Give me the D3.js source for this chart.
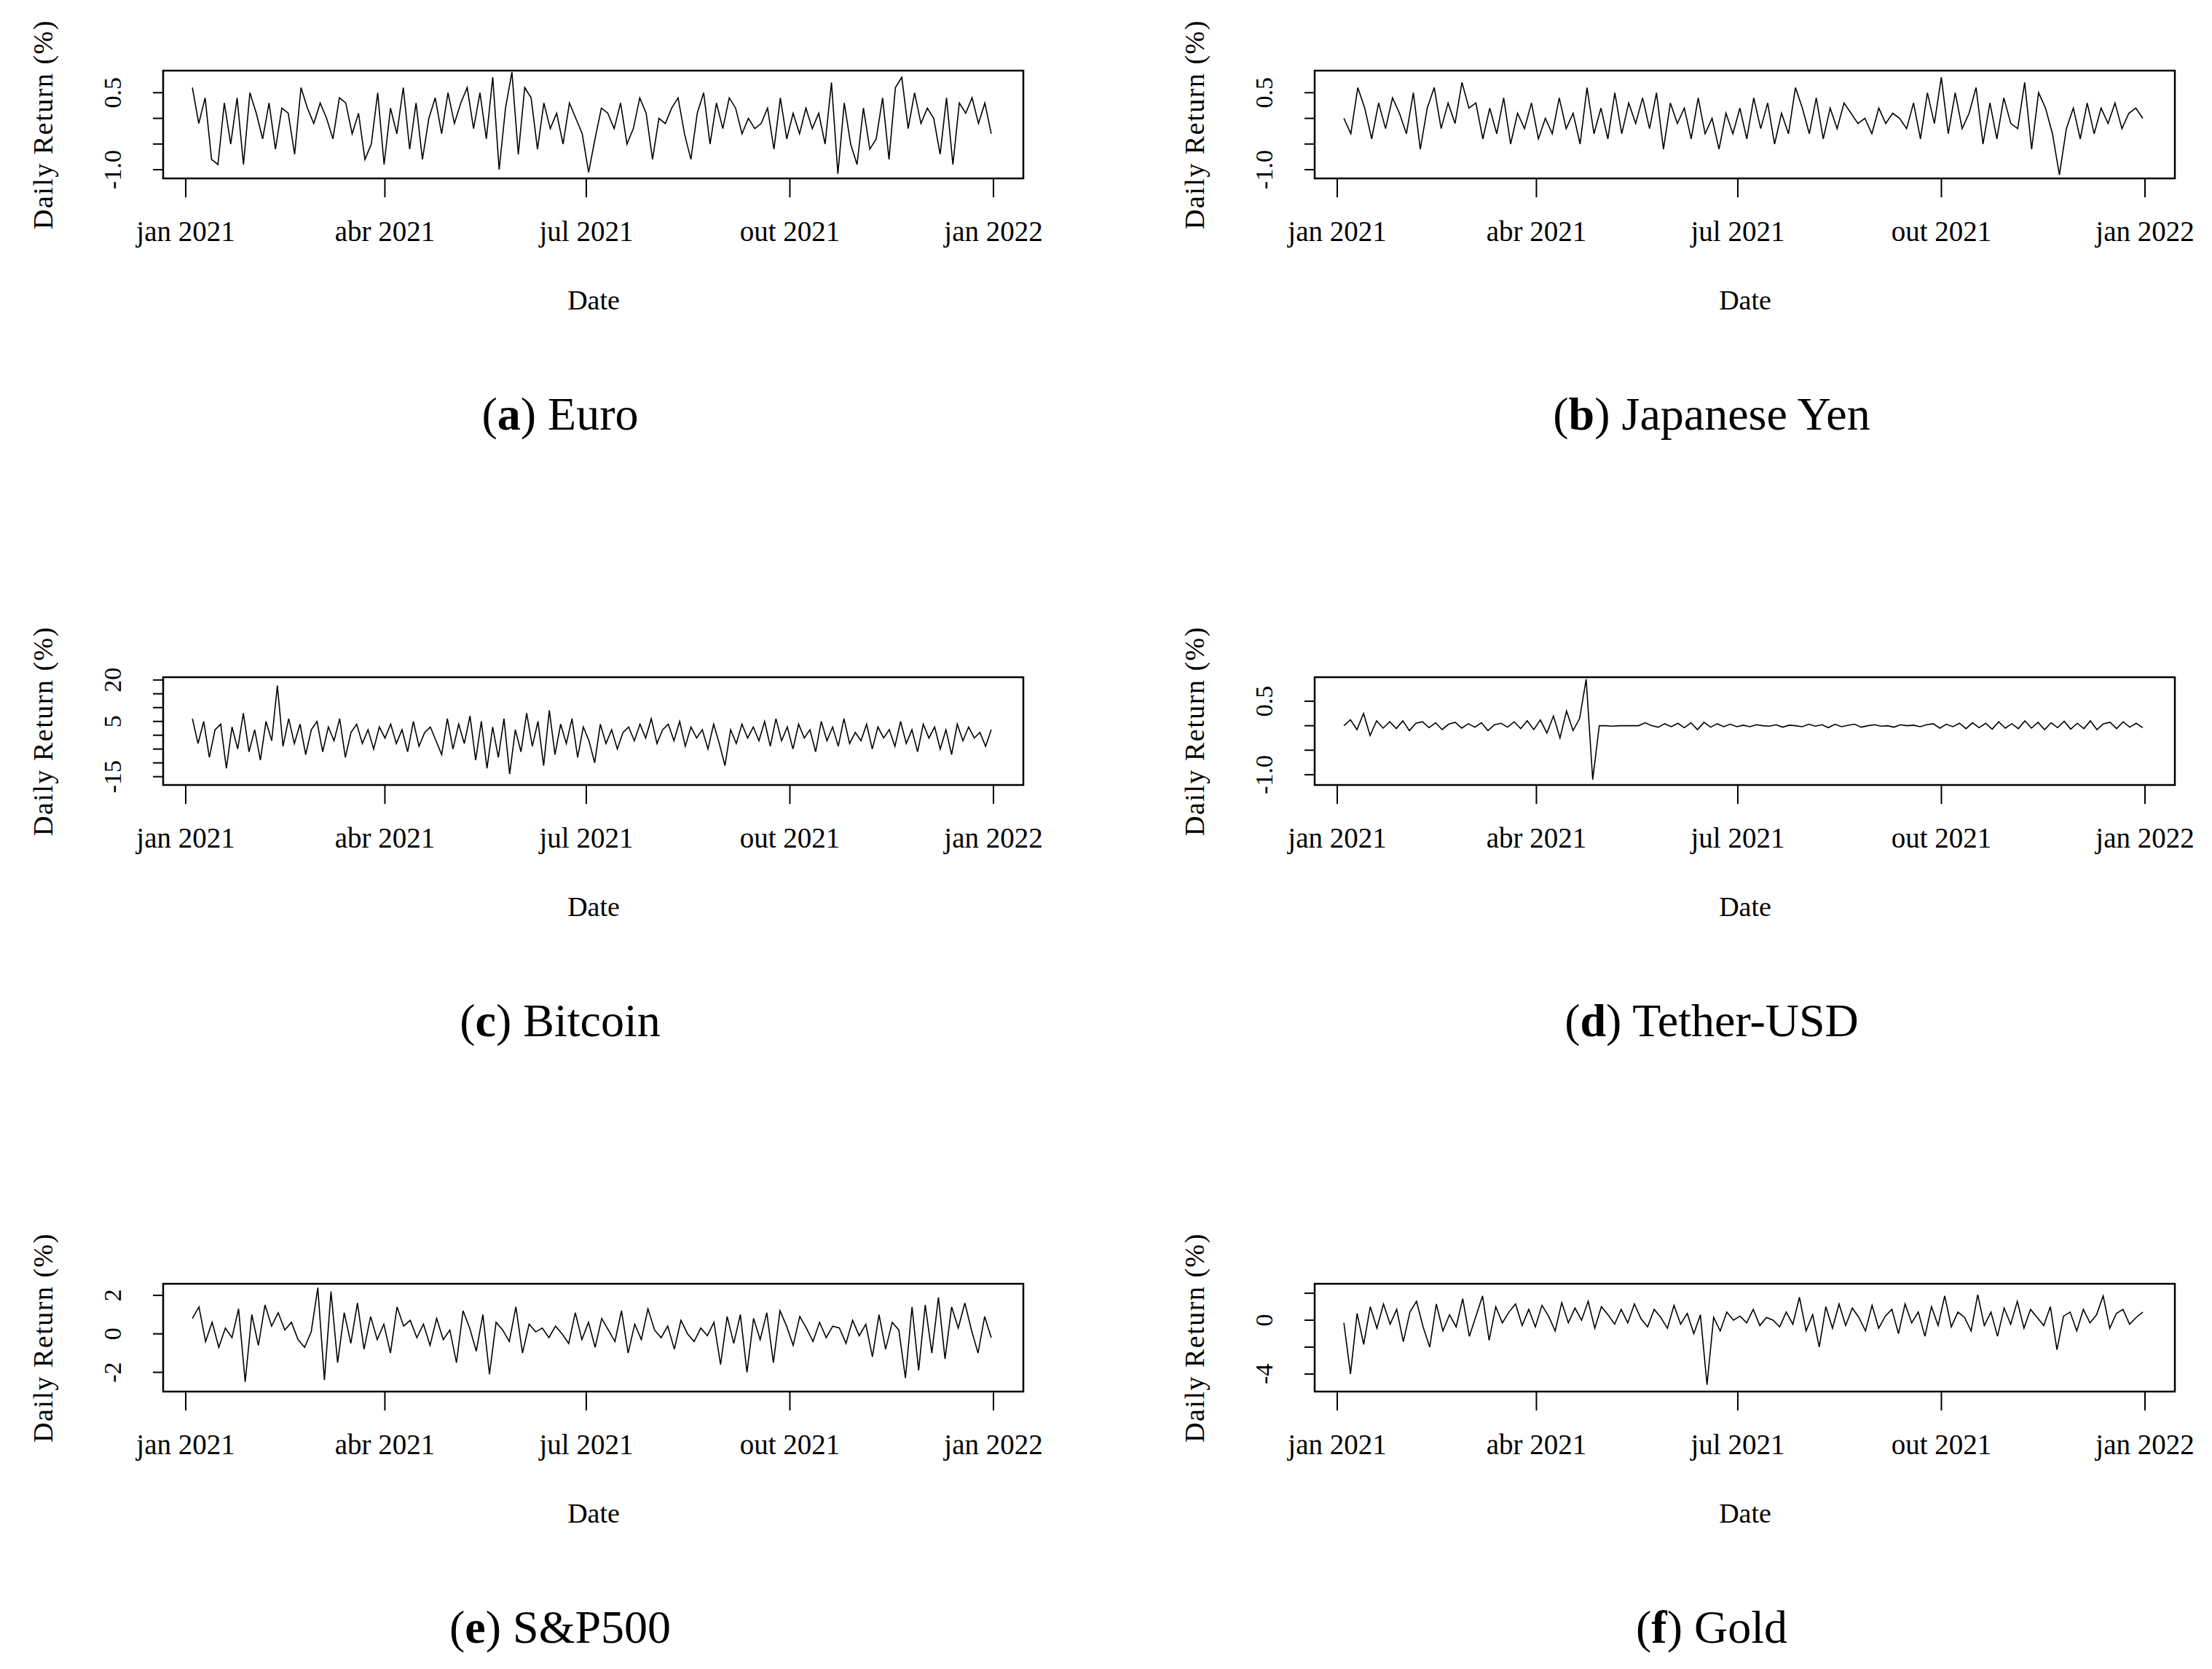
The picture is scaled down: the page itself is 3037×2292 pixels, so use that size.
<!DOCTYPE html>
<html>
<head>
<meta charset="utf-8">
<script src="https://cdn.jsdelivr.net/npm/d3@7"></script>
<style>
  body { margin: 0; background: #fff; }
  text { font-family: "Liberation Serif", serif; }
</style>
</head>
<body>
<script>
// daily returns (%), roughly every 3 days
const euro = [0.6,-0.1,0.4,-0.8,-0.9,0.3,-0.5,0.4,-0.9,0.5,0.1,-0.4,0.3,-0.6,0.2,0.1,-0.7,0.6,0.2,-0.1,0.3,0.0,-0.4,0.4,0.3,-0.3,0.1,-0.8,-0.5,0.5,-0.9,0.2,-0.3,0.6,-0.6,0.3,-0.8,0.0,0.4,-0.3,0.5,-0.1,0.3,0.6,-0.2,0.5,-0.4,0.8,-1.0,0.2,0.9,-0.7,0.6,0.4,-0.6,0.3,-0.2,0.1,-0.5,0.3,0.0,-0.3,-1.05,-0.4,0.2,0.1,-0.2,0.3,-0.5,-0.2,0.4,0.1,-0.8,0.0,-0.1,0.2,0.4,-0.3,-0.8,0.1,0.5,-0.5,0.3,-0.2,0.4,0.2,-0.3,0.0,-0.2,-0.1,0.2,-0.6,0.4,-0.4,0.1,-0.3,0.2,-0.2,0.1,-0.5,0.7,-1.08,0.3,-0.5,-0.9,0.2,-0.6,-0.4,0.4,-0.8,0.6,0.8,-0.2,0.5,-0.1,0.2,0.0,-0.7,0.4,-0.9,0.3,0.1,0.4,-0.1,0.3,-0.3];
const yen = [0.0,-0.3,0.6,0.2,-0.4,0.3,-0.2,0.4,0.1,-0.3,0.5,-0.6,0.2,0.6,-0.2,0.3,-0.1,0.7,0.2,0.3,-0.4,0.2,-0.3,0.4,-0.5,0.1,-0.2,0.3,-0.4,0.0,-0.3,0.4,-0.2,0.1,-0.5,0.6,-0.3,0.2,-0.4,0.5,-0.3,0.3,-0.1,0.4,-0.2,0.5,-0.6,0.3,-0.1,0.2,-0.4,0.4,-0.3,0.0,-0.6,0.1,-0.3,0.2,-0.4,0.4,-0.2,0.3,-0.5,0.1,-0.3,0.6,0.2,-0.3,0.4,-0.4,0.2,-0.2,0.3,0.1,-0.1,0.0,-0.3,0.2,-0.1,0.1,0.0,-0.2,0.3,-0.4,0.5,-0.1,0.8,-0.3,0.5,-0.2,0.1,0.6,-0.5,0.3,-0.4,0.4,-0.1,-0.2,0.7,-0.6,0.5,0.2,-0.3,-1.1,-0.2,0.2,-0.4,0.3,-0.3,0.2,-0.1,0.3,-0.2,0.1,0.2,0.0];
const bitcoin = [6,-3,5,-8,2,4,-12,3,-5,8,-6,2,-9,5,-2,18,-4,6,-3,4,-7,2,5,-6,3,-2,6,-8,1,4,-3,2,-5,3,-1,4,-3,2,-6,5,-4,1,3,-2,-7,6,-5,4,-3,7,-9,5,-12,3,-8,6,-14,2,-6,8,-4,5,-11,9,-7,4,-3,6,-8,3,-2,-10,4,-3,2,-5,1,3,-2,4,-1,6,-3,2,4,-2,5,-4,3,-1,2,-5,4,-3,-11,2,-3,4,-1,3,-2,5,-4,6,-2,3,-5,4,-1,2,-6,5,-2,3,-4,6,-3,1,-2,4,-5,3,-1,2,-4,5,-3,2,-6,4,-1,3,-5,2,-7,4,-2,3,-1,1,-4,2];
const tether = [0.0,0.12,-0.08,0.25,-0.2,0.1,-0.05,0.08,-0.06,0.1,-0.1,0.05,0.08,-0.04,0.06,-0.08,0.03,0.07,-0.05,0.04,-0.03,0.06,-0.1,0.02,0.05,-0.03,0.08,-0.06,0.1,-0.08,0.12,-0.15,0.2,-0.25,0.3,-0.1,0.15,0.95,-1.1,0.0,0.0,-0.01,0.0,0.0,0.0,0.0,0.06,0.0,-0.03,0.04,-0.02,0.05,-0.04,0.06,-0.08,0.07,-0.03,0.04,-0.02,0.03,-0.02,0.01,-0.02,0.02,0.0,-0.01,0.02,-0.03,0.01,0.0,-0.02,0.03,-0.01,0.02,-0.04,0.03,-0.02,0.01,0.03,-0.03,0.0,0.02,-0.01,0.0,-0.03,0.02,0.0,0.01,-0.02,0.02,0.04,-0.05,0.03,-0.02,0.05,-0.06,0.06,-0.04,0.05,-0.07,0.08,-0.05,0.04,-0.06,0.1,-0.05,0.07,-0.08,0.06,-0.04,0.09,-0.07,0.05,-0.06,0.1,-0.08,0.04,0.07,-0.06,0.08,-0.03,0.05,-0.04];
const sp500 = [0.8,1.4,-0.4,0.6,-0.7,0.3,-0.2,1.3,-2.5,1.0,-0.6,1.5,0.4,1.1,0.2,0.6,-0.3,-0.7,0.1,2.4,-2.4,2.2,-1.5,1.1,-0.5,1.6,-0.8,0.9,-0.3,0.5,-1.0,1.4,0.4,0.7,-0.2,0.5,-0.6,0.8,-0.3,0.2,-1.5,1.2,0.3,-0.9,1.0,-2.1,0.6,0.2,-0.4,1.4,-1.0,0.5,0.1,0.3,-0.2,0.4,0.0,-0.5,1.1,-0.3,0.6,-0.7,0.8,0.2,-0.4,1.2,-1.0,0.5,-0.3,1.3,0.2,-0.2,0.4,-0.8,0.7,0.0,-0.4,0.3,-0.1,0.6,-1.6,0.9,-0.5,1.0,-2.0,0.8,-0.3,1.1,-1.5,1.2,0.4,-0.6,0.9,0.3,-0.4,0.6,-0.2,0.4,0.3,-0.5,0.7,-0.1,0.5,-1.2,1.0,-0.8,0.6,0.2,-2.3,1.4,-1.9,1.5,-1.0,1.9,-1.3,1.4,0.3,1.6,0.2,-1.0,0.9,-0.2];
const gold = [-0.2,-4.0,0.5,-1.8,1.0,-0.6,1.2,-0.3,0.8,-1.6,0.6,1.4,-0.5,-2.0,1.2,-0.8,0.4,-0.5,1.6,-1.2,0.3,1.8,-1.5,1.0,-0.2,0.6,1.2,-0.4,0.8,-0.5,1.1,0.3,-0.8,1.3,-0.2,0.9,0.0,1.4,-0.6,1.0,0.4,-0.3,0.8,-0.2,1.2,0.1,-0.5,0.8,0.2,-0.6,1.1,-0.3,0.5,-1.0,0.4,-4.8,0.2,-0.8,0.6,0.0,0.3,-0.2,0.8,-0.4,0.2,0.0,-0.5,0.6,-0.3,1.7,-0.8,0.4,-2.0,1.0,-0.6,1.2,-0.4,0.9,0.2,-0.8,1.1,-0.6,0.3,0.8,-1.0,1.2,-0.2,0.6,-1.2,1.0,-0.4,1.8,-0.5,0.6,0.2,-0.8,1.9,-0.4,0.6,-1.2,0.9,-0.3,1.4,-0.6,0.8,0.2,-0.4,1.0,-2.2,0.3,0.6,-0.8,0.8,-0.2,0.4,1.8,-0.6,0.5,0.8,-0.3,0.2,0.6];

const xTickDates = [new Date(2021,0,1), new Date(2021,3,1), new Date(2021,6,1), new Date(2021,9,1), new Date(2022,0,1)];
const xTickLabels = ["jan 2021", "abr 2021", "jul 2021", "out 2021", "jan 2022"];
const firstDay = new Date(2021,0,4), lastDay = new Date(2021,11,31);

const panels = [
  { letter: "a", name: "Euro", values: euro, domain: [-1.17, 0.93], ticks: [-1, -0.5, 0, 0.5], labels: ["-1.0", "0.5"], lv: [-1, 0.5] },
  { letter: "b", name: "Japanese Yen", values: yen, domain: [-1.17, 0.93], ticks: [-1, -0.5, 0, 0.5], labels: ["-1.0", "0.5"], lv: [-1, 0.5] },
  { letter: "c", name: "Bitcoin", values: bitcoin, domain: [-18, 21], ticks: [-15, -10, -5, 0, 5, 10, 15, 20], labels: ["-15", "5", "20"], lv: [-15, 5, 20] },
  { letter: "d", name: "Tether-USD", values: tether, domain: [-1.21, 0.99], ticks: [-1, -0.5, 0, 0.5], labels: ["-1.0", "0.5"], lv: [-1, 0.5] },
  { letter: "e", name: "S&P500", values: sp500, domain: [-3.0, 2.6], ticks: [-2, 0, 2], labels: ["-2", "0", "2"], lv: [-2, 0, 2] },
  { letter: "f", name: "Gold", values: gold, domain: [-5.3, 2.7], ticks: [-4, -2, 0, 2], labels: ["-4", "0"], lv: [-4, 0] }
];

const W = 3037, H = 2292;
const svg = d3.select("body").append("svg").attr("width", W).attr("height", H);

const colOff = 1581, rowOff = 833;
const box = { x0: 224, x1: 1405, y0: 97, y1: 245 };

panels.forEach((p, i) => {
  const g = svg.append("g")
    .attr("transform", `translate(${(i % 2) * colOff},${Math.floor(i / 2) * rowOff})`);

  const x = d3.scaleTime()
    .domain([new Date(2021,0,1), new Date(2022,0,1)])
    .range([255, 1364]);
  const y = d3.scaleLinear().domain(p.domain).range([box.y1, box.y0]);

  const n = p.values.length;
  const dateAt = d3.scaleLinear().domain([0, n - 1]).range([+firstDay, +lastDay]);

  g.append("path")
    .datum(p.values)
    .attr("fill", "none")
    .attr("stroke", "#000")
    .attr("stroke-width", 1.6)
    .attr("d", d3.line().x((d, j) => x(new Date(dateAt(j)))).y(d => y(d)));

  g.append("rect")
    .attr("x", box.x0).attr("y", box.y0)
    .attr("width", box.x1 - box.x0).attr("height", box.y1 - box.y0)
    .attr("fill", "none").attr("stroke", "#000").attr("stroke-width", 2.5);

  // x axis: ticks hang from the box
  g.selectAll(".xt").data(xTickDates).join("line")
    .attr("x1", d => x(d)).attr("x2", d => x(d))
    .attr("y1", box.y1).attr("y2", box.y1 + 26)
    .attr("stroke", "#000").attr("stroke-width", 2);
  g.selectAll(".xl").data(xTickLabels).join("text")
    .attr("x", (d, j) => x(xTickDates[j]))
    .attr("y", 331)
    .attr("text-anchor", "middle")
    .attr("font-size", 39)
    .text(d => d);

  g.append("text")
    .attr("x", 815).attr("y", 425)
    .attr("text-anchor", "middle").attr("font-size", 38)
    .text("Date");

  // y axis
  g.selectAll(".yt").data(p.ticks).join("line")
    .attr("x1", box.x0 - 14).attr("x2", box.x0)
    .attr("y1", d => y(d)).attr("y2", d => y(d))
    .attr("stroke", "#000").attr("stroke-width", 2);
  g.selectAll(".yl").data(p.labels).join("text")
    .attr("transform", (d, j) => `translate(166,${y(p.lv[j])}) rotate(-90)`)
    .attr("text-anchor", "middle")
    .attr("font-size", 34)
    .attr("font-family", "Liberation Mono, monospace")
    .text(d => d);

  g.append("text")
    .attr("transform", `translate(72,171) rotate(-90)`)
    .attr("text-anchor", "middle")
    .attr("font-size", 38)
    .attr("letter-spacing", 1.5)
    .text("Daily Return (%)");

  const cap = g.append("text")
    .attr("x", 769).attr("y", 590)
    .attr("text-anchor", "middle")
    .attr("font-size", 64);
  cap.append("tspan").text("(");
  cap.append("tspan").attr("font-weight", "bold").text(p.letter);
  cap.append("tspan").text(") " + p.name);
});
</script>
</body>
</html>
